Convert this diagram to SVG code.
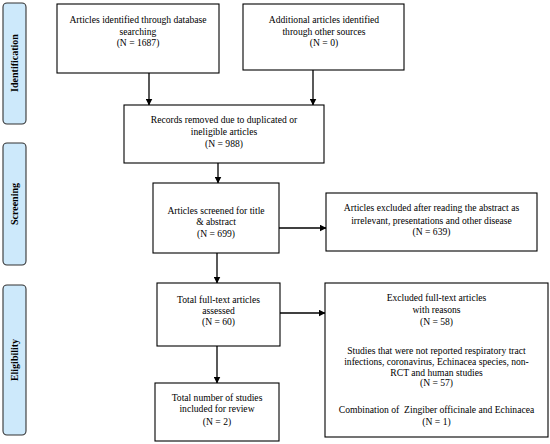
<svg xmlns="http://www.w3.org/2000/svg" width="550" height="444" viewBox="0 0 550 444" font-family="'Liberation Serif', 'Times New Roman', Times, serif">
<defs>
<style>
.box{fill:#fff;stroke:#000;stroke-width:1.1}
.lab{fill:#cde9fb;stroke:#333;stroke-width:1.1}
text{font-family:'Liberation Serif','Times New Roman',Times,serif}
.t{font-size:9.6px;fill:#000;text-anchor:middle}
.lt{font-size:10px;font-weight:bold;fill:#000;text-anchor:middle}
.c{stroke:#000;stroke-width:1.3;fill:none;marker-end:url(#ah)}
</style>
<marker id="ah" markerWidth="7" markerHeight="7" refX="6.5" refY="3.5" orient="auto" markerUnits="userSpaceOnUse">
<path d="M0,0 L7,3.5 L0,7 Z" fill="#000"/>
</marker>
</defs>
<rect width="550" height="444" fill="#fff"/>
<g id="phase-identification">
<rect class="lab" x="3" y="3" width="23" height="121" rx="4"/>
<text class="lt" transform="translate(18,63) rotate(-90)">Identification</text>
</g>
<g id="phase-screening">
<rect class="lab" x="3" y="143" width="23" height="122" rx="4"/>
<text class="lt" transform="translate(18,204) rotate(-90)">Screening</text>
</g>
<g id="phase-eligibility">
<rect class="lab" x="3" y="285" width="23" height="150" rx="4"/>
<text class="lt" transform="translate(18,360) rotate(-90)">Eligibility</text>
</g>
<g id="connectors">
<line class="c" x1="149" y1="73" x2="149" y2="105"/>
<line class="c" x1="313" y1="70" x2="313" y2="105"/>
<line class="c" x1="218" y1="163" x2="218" y2="183"/>
<line class="c" x1="279" y1="228" x2="326" y2="228"/>
<line class="c" x1="217" y1="253" x2="217" y2="283"/>
<line class="c" x1="217" y1="346" x2="217" y2="383"/>
<line class="c" x1="280" y1="313" x2="325" y2="313"/>
</g>
<g id="n-database">
<rect class="box" x="57" y="4" width="162" height="69"/>
<text class="t" x="138" y="23">Articles identified through database</text>
<text class="t" x="138" y="35">searching</text>
<text class="t" x="138" y="46">(N = 1687)</text>
</g>
<g id="n-other">
<rect class="box" x="243" y="4" width="161" height="66"/>
<text class="t" x="324" y="23">Additional articles identified</text>
<text class="t" x="324" y="35">through other sources</text>
<text class="t" x="324" y="46">(N = 0)</text>
</g>
<g id="n-removed">
<rect class="box" x="124" y="105" width="200" height="58"/>
<text class="t" x="224" y="123">Records removed due to duplicated or</text>
<text class="t" x="224" y="135">ineligible articles</text>
<text class="t" x="224" y="147">(N = 988)</text>
</g>
<g id="n-screened">
<rect class="box" x="153" y="183" width="126" height="70"/>
<text class="t" x="216" y="214">Articles screened for title</text>
<text class="t" x="216" y="225">&amp; abstract</text>
<text class="t" x="216" y="237">(N = 699)</text>
</g>
<g id="n-excluded-abstract">
<rect class="box" x="326" y="193" width="211" height="58"/>
<text class="t" x="431.5" y="211">Articles excluded after reading the abstract as</text>
<text class="t" x="431.5" y="224">irrelevant, presentations and other disease</text>
<text class="t" x="431.5" y="235">(N = 639)</text>
</g>
<g id="n-fulltext">
<rect class="box" x="157" y="283" width="123" height="63"/>
<text class="t" x="218.5" y="303">Total full-text articles</text>
<text class="t" x="218.5" y="314">assessed</text>
<text class="t" x="218.5" y="325">(N = 60)</text>
</g>
<g id="n-included">
<rect class="box" x="155" y="383" width="124" height="58"/>
<text class="t" x="217" y="401">Total number of studies</text>
<text class="t" x="217" y="412">included for review</text>
<text class="t" x="217" y="425">(N = 2)</text>
</g>
<g id="n-excluded-fulltext">
<rect class="box" x="325" y="283" width="223" height="154"/>
<text class="t" x="436.5" y="301">Excluded full-text articles</text>
<text class="t" x="436.5" y="313">with reasons</text>
<text class="t" x="436.5" y="325">(N = 58)</text>
<text class="t" x="436.5" y="354">Studies that were not reported respiratory tract</text>
<text class="t" x="436.5" y="365">infections, coronavirus, Echinacea species, non-</text>
<text class="t" x="436.5" y="376">RCT and human studies</text>
<text class="t" x="436.5" y="386">(N = 57)</text>
<text class="t" x="436.5" y="413" xml:space="preserve">Combination of  Zingiber officinale and Echinacea</text>
<text class="t" x="436.5" y="425">(N = 1)</text>
</g>
</svg>
